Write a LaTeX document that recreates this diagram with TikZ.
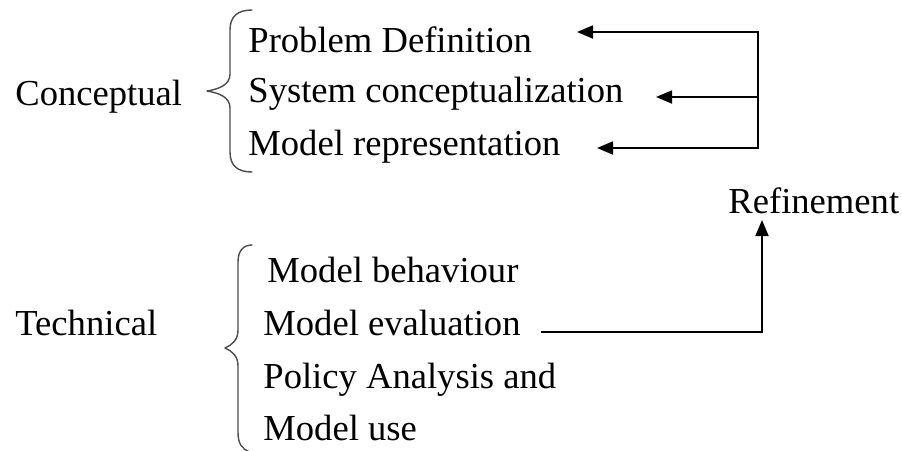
\documentclass[tikz,border=0pt]{standalone}
\usepackage{fontspec}
\setmainfont{Liberation Serif}
\usetikzlibrary{arrows.meta}
\begin{document}
\begin{tikzpicture}[x=0.5pt,y=-0.5pt,
  lbl/.style={anchor=base west,inner sep=0pt,font=\fontsize{18.3pt}{22pt}\selectfont},
  conn/.style={line width=0.9pt,black},
  tip/.style={-{Triangle[length=8pt,width=6.5pt]}},
  bothtips/.style={{Triangle[length=8pt,width=6.5pt]}-{Triangle[length=8pt,width=6.5pt]}},
  brace/.style={line width=0.7pt,black!70,line cap=round,line join=round}]
\useasboundingbox (0,0) rectangle (902,451);

% group labels
\node[lbl] (conc) at (15,105) {Conceptual};
\node[lbl] (tech) at (15,335) {Technical};

% conceptual steps
\node[lbl] (pd) at (248,52)  {Problem Definition};
\node[lbl] (sc) at (248,102) {System conceptualization};
\node[lbl] (mr) at (248,155) {Model representation};

% technical steps
\node[lbl] (mb) at (267,282) {Model behaviour};
\node[lbl] (me) at (263,335) {Model evaluation};
\node[lbl] (pa) at (263,388) {Policy Analysis and};
\node[lbl] (mu) at (263,440) {Model use};

\node[lbl] (ref) at (728,213) {Refinement};

% braces
\draw[brace] (252,10) .. controls (238,10) and (230,16) .. (230,30)
  -- (230,74) .. controls (230,85) and (219,89) .. (207,91)
  .. controls (219,93) and (230,97) .. (230,108)
  -- (230,152) .. controls (230,166) and (238,172) .. (252,172);
\draw[brace] (252,245) .. controls (244,245) and (238,250) .. (238,262)
  -- (238,330) .. controls (238,340) and (232,345) .. (225,348)
  .. controls (232,351) and (238,356) .. (238,366)
  -- (238,432) .. controls (238,444) and (242,449) .. (250,452);

% feedback loop coordinates
\coordinate (pd-in) at (577,32);
\coordinate (sc-in) at (656,97);
\coordinate (mr-in) at (597,148);
\coordinate (fb-top) at (758,32);
\coordinate (fb-mid) at (758,97);
\coordinate (fb-bot) at (758,148);
\coordinate (me-out) at ([xshift=10pt]me.east |- 0,332);
\coordinate (ref-in) at (762,220);

\draw[conn,bothtips] (pd-in) -- (fb-top) -- (fb-bot) -- (mr-in);
\draw[conn,tip] (fb-mid) -- (sc-in);
\draw[conn,tip] (me-out) -| (ref-in);
\end{tikzpicture}
\end{document}
